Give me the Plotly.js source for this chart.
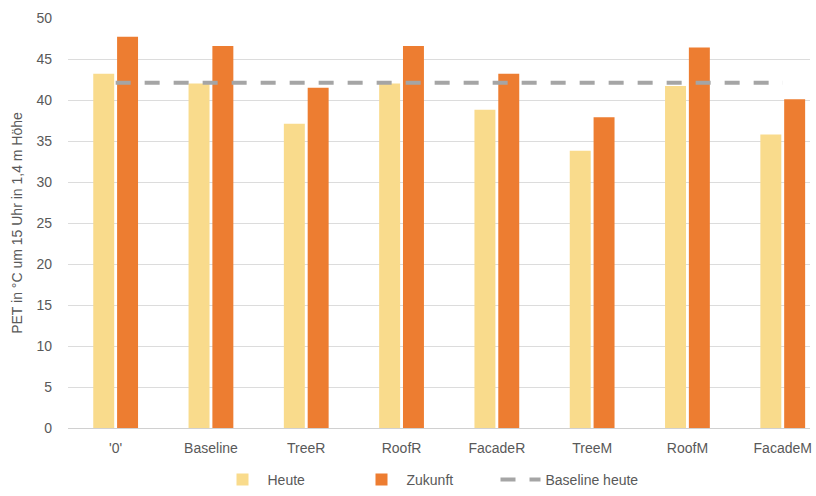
<!DOCTYPE html>
<html><head><meta charset="utf-8">
<script src="https://cdn.plot.ly/plotly-3.0.1.min.js"></script>
<style>html,body{margin:0;padding:0;background:#fff}#c{width:816px;height:496px}</style>
</head><body><div id="c"></div>
<script>
const categories = ["'0'", "Baseline", "TreeR", "RoofR", "FacadeR", "TreeM", "RoofM", "FacadeM"];
const heute = [43.2, 42.0, 37.1, 42.0, 38.8, 33.8, 41.7, 35.8];
const zukunft = [47.7, 46.6, 41.5, 46.6, 43.2, 37.9, 46.4, 40.1];
const baselineHeute = [42.1, 42.1, 42.1, 42.1, 42.1, 42.1, 42.1, 42.1];
const yTicks = [0, 5, 10, 15, 20, 25, 30, 35, 40, 45, 50];

const font = {family: 'Liberation Sans, Arial, sans-serif', color: '#595959', size: 14};
const data = [
  {type: 'bar', name: 'Heute', x: categories, y: heute, marker: {color: '#F9DB8C'}},
  {type: 'bar', name: 'Zukunft', x: categories, y: zukunft, marker: {color: '#ED7D31'}},
  {type: 'scatter', mode: 'lines', name: 'Baseline heute', x: categories, y: baselineHeute,
   legendwidth: 110,
   line: {color: '#A5A5A5', width: 4, dash: '15px,14px'}}
];
const layout = {
  width: 816, height: 496,
  margin: {l: 68, r: 6, t: 18, b: 68, autoexpand: false},
  paper_bgcolor: '#fff', plot_bgcolor: '#fff',
  font: font,
  barmode: 'group', bargap: 0.5, bargroupgap: 0.12,
  showlegend: true,
  legend: {orientation: 'h', x: 0.5, xanchor: 'center', yref: 'container', y: -0.01, yanchor: 'bottom',
           entrywidth: 84, entrywidthmode: 'pixels', itemwidth: 40,
           font: {family: font.family, color: '#595959', size: 14}, traceorder: 'normal'},
  xaxis: {type: 'category', range: [-0.5, 7.286], showgrid: false, zeroline: false, showline: false,
          ticks: '', ticklabelstandoff: 10, tickfont: {family: font.family, color: '#595959', size: 14}, fixedrange: true},
  yaxis: {range: [0, 50], tickvals: yTicks, ticktext: yTicks.map(String), showgrid: true, gridcolor: '#DCDCDC',
          gridwidth: 1, zeroline: true, zerolinecolor: '#D0D0D0', zerolinewidth: 1, showline: false, ticks: '',
          ticklabelstandoff: 15,
          tickfont: {family: font.family, color: '#595959', size: 14},
          title: {text: 'PET in °C um 15 Uhr in 1,4 m Höhe', font: {family: font.family, color: '#595959', size: 14}, standoff: 10}}
};
Plotly.newPlot('c', data, layout, {displayModeBar: false, staticPlot: true});
</script></body></html>
